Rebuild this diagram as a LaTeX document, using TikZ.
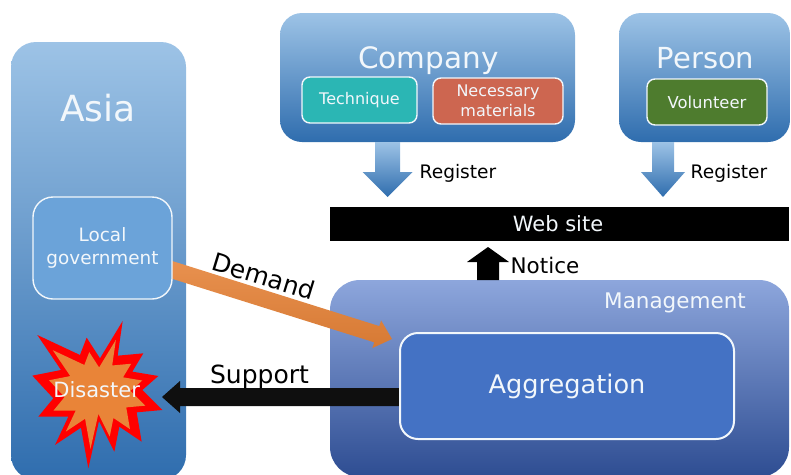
\documentclass[tikz,border=0pt]{standalone}
\usepackage{fontspec}
\setmainfont{DejaVu Sans}
\usetikzlibrary{calc}
\pgfdeclarelayer{back}
\pgfdeclarelayer{arrows}
\pgfsetlayers{back,arrows,main}
\definecolor{skyT}{HTML}{9DC3E6}
\definecolor{skyM}{HTML}{5F9BD6}
\definecolor{skyB}{HTML}{2F6DAE}
\definecolor{mgT}{HTML}{8DA6DC}
\definecolor{mgM}{HTML}{4B71C1}
\definecolor{mgB}{HTML}{2E4D92}
\definecolor{softW}{HTML}{F2F7FB}
\definecolor{burstO}{HTML}{E98438}
\newcommand{\fsz}[1]{\pgfmathsetmacro\mylead{#1*1.25}\fontsize{#1}{\mylead}\selectfont}
\tikzset{
  box/.style={rounded corners=#1,inner sep=0pt,outer sep=0pt,align=center,text=softW},
  panel/.style={box=#1,top color=skyT,middle color=skyM,bottom color=skyB},
  mgpanel/.style={box=#1,top color=mgT,middle color=mgM,bottom color=mgB},
  inner/.style={box=#1,draw=softW,line width=1.4pt},
  label/.style={inner sep=0pt,text=softW,anchor=base},
  dark/.style={inner sep=0pt,text=black,anchor=base},
  fsize/.style={font=\fsz{#1}},
}
\newcommand{\blockarrow}[6]{% style, start, tip, shaft half, head half, head length
  \coordinate (ba) at ($(#3)!#6!(#2)$);
  \path[#1] ($(#2)!#4!90:(#3)$) -- ($(ba)!#4!90:(#3)$) -- ($(ba)!#5!90:(#3)$) -- (#3)
    -- ($(ba)!#5!-90:(#3)$) -- ($(ba)!#4!-90:(#3)$) -- ($(#2)!#4!-90:(#3)$) -- cycle;
}
\begin{document}
\begin{tikzpicture}[x=1pt,y=-1pt]
\useasboundingbox (0,0) rectangle (791,474);
\clip (0,0) rectangle (791,474);
\begin{pgfonlayer}{back}
  \node[panel=25pt,minimum width=175pt,minimum height=438pt] (asia) at (98.5,261) {};
  \node[panel=22pt,minimum width=295pt,minimum height=129pt] (company) at (427.5,77.5) {};
  \node[panel=22pt,minimum width=171pt,minimum height=129pt] (person) at (704.5,77.5) {};
  \node[mgpanel=30pt,minimum width=459pt,minimum height=197pt] (management) at (559.5,378.5) {};
\end{pgfonlayer}

\node[fill=black,inner sep=0pt,minimum width=459pt,minimum height=34pt] (web) at (559.5,224) {};
\node[label,fsize=21] (weblabel) at (558,231) {Web site};

\node[inner=20pt,fill=skyM!80!skyT,minimum width=139pt,minimum height=102pt,fsize=18.4] (local) at (102.5,248) {Local\\government};
\node[inner=8pt,fill={rgb,255:red,43;green,182;blue,180},minimum width=115pt,minimum height=46pt,fsize=16] (technique) at (359.5,100) {Technique};
\node[inner=8pt,fill={rgb,255:red,205;green,102;blue,80},minimum width=130pt,minimum height=46pt,fsize=16] (materials) at (498,101) {Necessary\\materials};
\node[inner=8pt,fill={rgb,255:red,78;green,124;blue,46},minimum width=120pt,minimum height=46pt,fsize=16.4] (volunteer) at (707,102) {Volunteer};
\node[inner=18pt,fill={rgb,255:red,68;green,114;blue,196},line width=2pt,minimum width=334pt,minimum height=106pt] (aggregation) at (567,386) {};
\node[label,fsize=25.6] (agglabel) at (567,393) {Aggregation};

\node[label,fsize=36] (asialabel) at (98,121) {Asia};
\node[label,fsize=29.5] (companylabel) at (428.5,68) {Company};
\node[label,fsize=29] (personlabel) at (705.5,68) {Person};
\node[label,fsize=21.5] (mglabel) at (675,308) {Management};

\node[dark,fsize=18.6] (reg1) at (458,178) {Register};
\node[dark,fsize=18.6] (reg2) at (729,178) {Register};
\node[dark,fsize=21.5] (notice) at (545,273) {Notice};
\node[inner sep=0pt,text=black,fsize=25,rotate=-17] (demand) at (264,276) {Demand};
\node[dark,fsize=25] (support) at (259.5,383) {Support};

% burst
\begin{scope}[shift={(25,315)},x=.3333pt,y=-.3333pt]
  \def\burst{(293,18) -- (278,122) -- (355,115) -- (322,170) -- (400,183) -- (352,225) -- (412,285) -- (335,292) -- (350,380) -- (283,335) -- (268,410) -- (222,318) -- (190,460) -- (168,338) -- (90,390) -- (130,305) -- (40,305) -- (85,250) -- (22,182) -- (108,165) -- (37,60) -- (165,120) -- (185,68) -- (225,130) -- cycle}
  \fill[red] \burst;
  \begin{scope}[shift={(215,235)},scale=.74,shift={(-215,-235)}]
    \fill[burstO] \burst;
  \end{scope}
  \node[label,fsize=21] (disaster) at (215,249) {Disaster};
\end{scope}

\begin{pgfonlayer}{arrows}
  \coordinate (tipReg1) at (387.5,197);
  \coordinate (tipReg2) at (663,197);
  \coordinate (tipNotice) at (488,247);
  \coordinate (tipDemand) at (392,339);
  \coordinate (tipSupport) at (162,397);
  \blockarrow{top color=skyT,bottom color=skyB}{tipReg1 |- company.south}{tipReg1}{12.5pt}{25pt}{25pt}
  \blockarrow{top color=skyT,bottom color=skyB}{tipReg2 |- person.south}{tipReg2}{11pt}{22pt}{25pt}
  \blockarrow{fill=black}{tipNotice |- management.north}{tipNotice}{11pt}{21pt}{15pt}
  \blockarrow{top color=burstO!85!white,bottom color=burstO!92!black}{local.center}{tipDemand}{8.5pt}{14.5pt}{16pt}
  \blockarrow{fill=black!94}{aggregation.west |- tipSupport}{tipSupport}{9pt}{16pt}{18pt}
\end{pgfonlayer}
\end{tikzpicture}
\end{document}
